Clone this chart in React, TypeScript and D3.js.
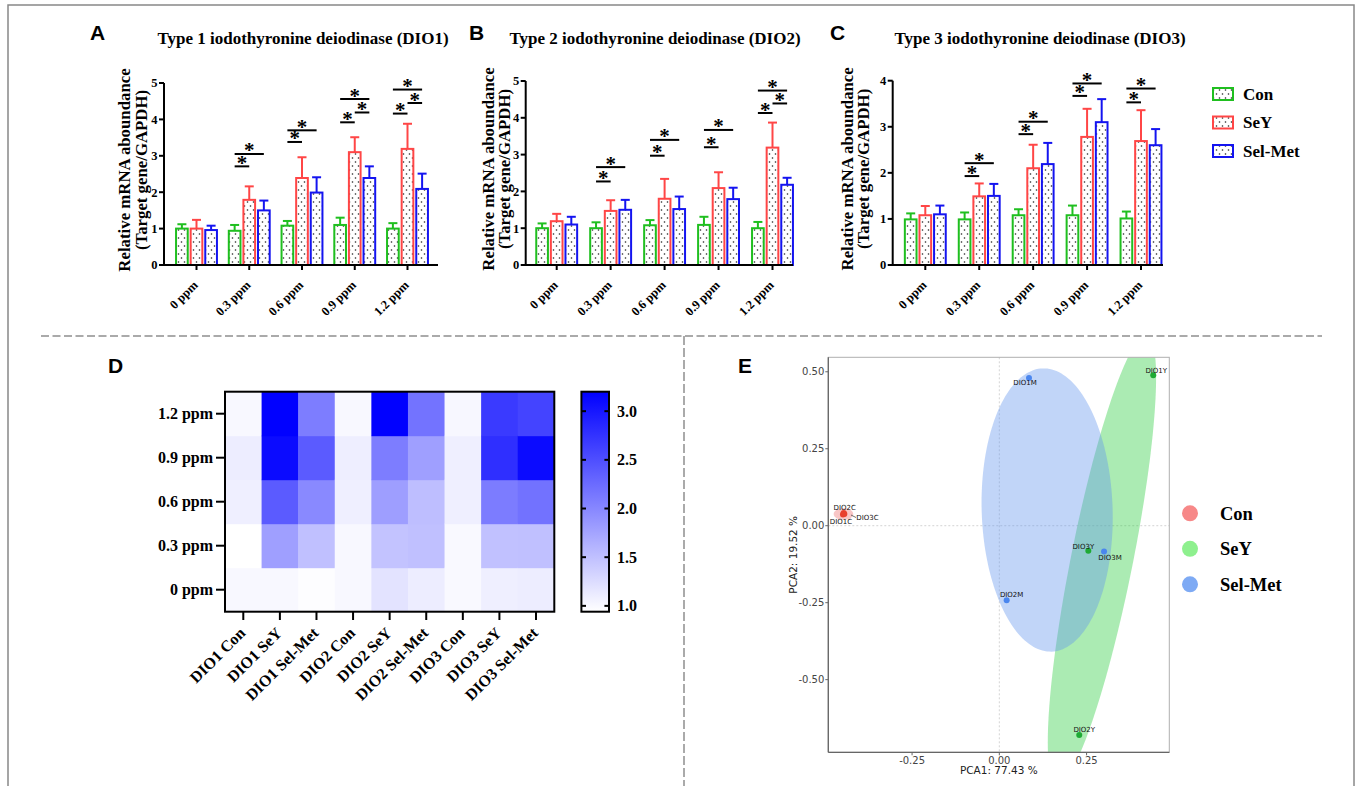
import React from "react";
import * as d3 from "d3";

// ---------------- DATA ----------------
const doses = ["0 ppm", "0.3 ppm", "0.6 ppm", "0.9 ppm", "1.2 ppm"];
const groups = ["Con", "SeY", "Sel-Met"];

// DIO1 (panel A)
const dio1Con = [1.0, 0.94, 1.08, 1.1, 1.0];
const dio1ConSD = [0.12, 0.16, 0.13, 0.2, 0.15];
const dio1SeY = [1.0, 1.79, 2.39, 3.1, 3.19];
const dio1SeYSD = [0.24, 0.37, 0.57, 0.41, 0.69];
const dio1Met = [0.96, 1.5, 1.99, 2.39, 2.09];
const dio1MetSD = [0.12, 0.27, 0.42, 0.32, 0.42];

// DIO2 (panel B)
const dio2Con = [1.0, 1.0, 1.08, 1.09, 1.0];
const dio2ConSD = [0.13, 0.16, 0.14, 0.22, 0.17];
const dio2SeY = [1.19, 1.47, 1.8, 2.09, 3.19];
const dio2SeYSD = [0.2, 0.29, 0.54, 0.43, 0.68];
const dio2Met = [1.1, 1.5, 1.52, 1.79, 2.18];
const dio2MetSD = [0.21, 0.27, 0.34, 0.31, 0.19];

// DIO3 (panel C)
const dio3Con = [0.99, 0.99, 1.08, 1.08, 1.01];
const dio3ConSD = [0.13, 0.15, 0.13, 0.21, 0.15];
const dio3SeY = [1.08, 1.49, 2.1, 2.78, 2.69];
const dio3SeYSD = [0.2, 0.28, 0.51, 0.61, 0.67];
const dio3Met = [1.1, 1.5, 2.19, 3.1, 2.6];
const dio3MetSD = [0.19, 0.26, 0.46, 0.5, 0.35];

// significance brackets: [dose index, from group, to group, height]
const dio1Sig = [[1, 0, 1, 2.71], [1, 0, 2, 3.05], [2, 0, 1, 3.38], [2, 0, 2, 3.7], [3, 0, 1, 3.92], [3, 1, 2, 4.19], [3, 0, 2, 4.56], [4, 0, 1, 4.16], [4, 1, 2, 4.45], [4, 0, 2, 4.82]];
const dio2Sig = [[1, 0, 1, 2.27], [1, 0, 2, 2.66], [2, 0, 1, 2.97], [2, 0, 2, 3.4], [3, 0, 1, 3.2], [3, 0, 2, 3.67], [4, 0, 1, 4.13], [4, 1, 2, 4.39], [4, 0, 2, 4.74]];
const dio3Sig = [[1, 0, 1, 1.93], [1, 0, 2, 2.21], [2, 0, 1, 2.84], [2, 0, 2, 3.11], [3, 0, 1, 3.67], [3, 0, 2, 3.94], [4, 0, 1, 3.53], [4, 0, 2, 3.83]];

// heatmap
const genes = ["DIO1", "DIO2", "DIO3"];
const heatDomain = [0.94, 3.2];
const colorbarTicks = [1.0, 1.5, 2.0, 2.5, 3.0];

// PCA
const pcaGroups = ["Con", "SeY", "Sel-Met"];
const pcaNames = ["DIO1C", "DIO2C", "DIO3C", "DIO1Y", "DIO2Y", "DIO3Y", "DIO1M", "DIO2M", "DIO3M"];
const pcaGroupOf = [0, 0, 0, 1, 1, 1, 2, 2, 2];
const pcaX = [-0.448, -0.446, -0.444, 0.441, 0.229, 0.255, 0.085, 0.021, 0.3];
const pcaY = [0.036, 0.041, 0.038, 0.489, -0.68, -0.081, 0.48, -0.242, -0.084];
// confidence ellipses: center, semi-axis vector u, semi-axis vector v (data units)
const ellCon = { c: [-0.4466, 0.038], u: [0.028, 0.0], v: [0.0, 0.019] };
const ellSeY = { c: [0.294, -0.111], u: [0.1285, 0.729], v: [0.087, -0.0198] };
const ellMet = { c: [0.137, 0.051], u: [-0.0125, 0.46], v: [0.1875, 0.0065] };
const pcaXTicks = [-0.25, 0.0, 0.25];
const pcaYTicks = [0.5, 0.25, 0.0, -0.25, -0.5];

// ---------------- STYLE ----------------
const SERIF = "'Liberation Serif', 'Times New Roman', serif";
const SANS = "'Liberation Sans', Arial, sans-serif";
const DEJA = "'DejaVu Sans', sans-serif";
const barColors = ["#1fbf1f", "#ff4646", "#1414f0"];
const pcaPointColors = ["#e8402f", "#1eaa34", "#4a86ee"];
const pcaFill = ["#f08080", "#2ecc40", "#6495ed"];
const legendDot = ["#f78888", "#8ef08e", "#7eaaf4"];

const panels = [
  { letter: "A", letterX: 90, title: "Type 1 iodothyronine deiodinase (DIO1)", titleX: 303, axisX: 164, axisEnd: 438, centers: [196.5, 407.5], yRange: [265, 83], yMax: 5, yl1: 130, yl2: 147, series: [dio1Con, dio1SeY, dio1Met], sds: [dio1ConSD, dio1SeYSD, dio1MetSD], sig: dio1Sig },
  { letter: "B", letterX: 469, title: "Type 2 iodothyronine deiodinase (DIO2)", titleX: 655, axisX: 525.7, axisEnd: 793, centers: [556.7, 772.5], yRange: [265, 81], yMax: 5, yl1: 494, yl2: 510, series: [dio2Con, dio2SeY, dio2Met], sds: [dio2ConSD, dio2SeYSD, dio2MetSD], sig: dio2Sig },
  { letter: "C", letterX: 830, title: "Type 3 iodothyronine deiodinase (DIO3)", titleX: 1040, axisX: 892.7, axisEnd: 1163, centers: [925.3, 1141], yRange: [265, 80.7], yMax: 4, yl1: 853, yl2: 869, series: [dio3Con, dio3SeY, dio3Met], sds: [dio3ConSD, dio3SeYSD, dio3MetSD], sig: dio3Sig },
];

function BarPanel({ p }: { p: any }) {
  const x = d3.scalePoint<string>().domain(doses).range(p.centers);
  const sub = d3.scaleBand<string>().domain(groups).range([-20.45, 20.45]).paddingInner(0.2);
  const y = d3.scaleLinear().domain([0, p.yMax]).range(p.yRange);
  const bw = sub.bandwidth();
  const yTicks = d3.range(0, p.yMax + 1);
  const yc = (p.yRange[0] + p.yRange[1]) / 2 - 4;
  const cx = (d: number, g: number) => (x(doses[d]) as number) + (sub(groups[g]) as number) + bw / 2;
  return (
    <g>
      <text x={p.letterX} y={40} fontFamily={SANS} fontWeight="bold" fontSize={21}>{p.letter}</text>
      <text x={p.titleX} y={44} textAnchor="middle" fontFamily={SERIF} fontWeight="bold" fontSize={17}>{p.title}</text>
      <text transform={`translate(${p.yl1},${yc}) rotate(-90)`} textAnchor="middle" fontFamily={SERIF} fontWeight="bold" fontSize={16.8}>Relative mRNA aboundance</text>
      <text transform={`translate(${p.yl2},${yc}) rotate(-90)`} textAnchor="middle" fontFamily={SERIF} fontWeight="bold" fontSize={16.8}>(Target gene/GAPDH)</text>
      {p.series.map((s: number[], g: number) =>
        s.map((v: number, d: number) => {
          const left = cx(d, g) - bw / 2;
          const top = y(v + p.sds[g][d]);
          return (
            <g key={`${g}-${d}`}>
              <line x1={cx(d, g)} x2={cx(d, g)} y1={y(v)} y2={top} stroke={barColors[g]} strokeWidth={2} />
              <line x1={cx(d, g) - 4.5} x2={cx(d, g) + 4.5} y1={top} y2={top} stroke={barColors[g]} strokeWidth={2} />
              <rect x={left} y={y(v)} width={bw} height={y(0) - y(v)} fill="url(#dots)" stroke={barColors[g]} strokeWidth={2} />
            </g>
          );
        })
      )}
      {p.sig.map((s: number[], i: number) => {
        const x1 = cx(s[0], s[1]);
        const x2 = cx(s[0], s[2]);
        const yy = y(s[3]);
        return (
          <g key={"s" + i}>
            <line x1={x1} x2={x2} y1={yy} y2={yy} stroke="#000" strokeWidth={2} />
            <text x={(x1 + x2) / 2} y={yy + 3.5} textAnchor="middle" fontFamily={SERIF} fontWeight="bold" fontSize={21}>*</text>
          </g>
        );
      })}
      <line x1={p.axisX} x2={p.axisX} y1={y(0) + 1} y2={y(p.yMax)} stroke="#000" strokeWidth={2} />
      <line x1={p.axisX} x2={p.axisEnd} y1={y(0)} y2={y(0)} stroke="#000" strokeWidth={2} />
      {yTicks.map((t: number) => (
        <g key={"y" + t}>
          <line x1={p.axisX - 5} x2={p.axisX} y1={y(t)} y2={y(t)} stroke="#000" strokeWidth={2} />
          <text x={p.axisX - 6.5} y={y(t)} dy="0.35em" textAnchor="end" fontFamily={SERIF} fontWeight="bold" fontSize={12.5}>{t}</text>
        </g>
      ))}
      {doses.map((d) => (
        <g key={d}>
          <line x1={x(d)} x2={x(d)} y1={y(0)} y2={y(0) + 5} stroke="#000" strokeWidth={2} />
          <text transform={`translate(${(x(d) as number) + 2},${y(0) + 21}) rotate(-45)`} textAnchor="end" fontFamily={SERIF} fontWeight="bold" fontSize={12.5}>{d}</text>
        </g>
      ))}
    </g>
  );
}

function BarLegend() {
  const ys = [88, 116.5, 145];
  return (
    <g>
      {groups.map((g, i) => (
        <g key={g}>
          <rect x={1213} y={ys[i]} width={20} height={12} fill="url(#dots)" stroke={barColors[i]} strokeWidth={2} />
          <text x={1243} y={ys[i] + 6} dy="0.35em" fontFamily={SERIF} fontWeight="bold" fontSize={17}>{g}</text>
        </g>
      ))}
    </g>
  );
}

function Heatmap() {
  const cols: string[] = [];
  const vals: { col: string; dose: string; v: number }[] = [];
  const means = [
    [dio1Con, dio1SeY, dio1Met],
    [dio2Con, dio2SeY, dio2Met],
    [dio3Con, dio3SeY, dio3Met],
  ];
  genes.forEach((gn, gi) =>
    groups.forEach((gr, ri) => {
      const col = `${gn} ${gr}`;
      cols.push(col);
      doses.forEach((d, di) => vals.push({ col, dose: d, v: means[gi][ri][di] }));
    })
  );
  const x = d3.scaleBand<string>().domain(cols).range([225, 554.3]);
  const y = d3.scaleBand<string>().domain([...doses].reverse()).range([391.7, 611.7]);
  const color = d3.scaleLinear<string>().domain(heatDomain).range(["#ffffff", "#0000ff"]).interpolate(d3.interpolateRgb).clamp(true);
  const cb = d3.scaleLinear().domain(heatDomain).range([611.7, 391.7]);
  const stops = d3.range(0, 1.0001, 0.1);
  return (
    <g>
      <defs>
        <linearGradient id="cbgrad" x1="0" y1="1" x2="0" y2="0">
          {stops.map((s) => (
            <stop key={s} offset={s} stopColor={color(heatDomain[0] + s * (heatDomain[1] - heatDomain[0]))} />
          ))}
        </linearGradient>
      </defs>
      <text x={108} y={373} fontFamily={SANS} fontWeight="bold" fontSize={21}>D</text>
      {vals.map((c, i) => (
        <rect key={i} x={x(c.col)} y={y(c.dose)} width={x.bandwidth() + 0.5} height={y.bandwidth() + 0.5} fill={color(c.v)} />
      ))}
      <rect x={225} y={391.7} width={329.3} height={220} fill="none" stroke="#000" strokeWidth={2} />
      {doses.map((d) => (
        <g key={d}>
          <line x1={216} x2={225} y1={(y(d) as number) + y.bandwidth() / 2} y2={(y(d) as number) + y.bandwidth() / 2} stroke="#000" strokeWidth={2} />
          <text x={213} y={(y(d) as number) + y.bandwidth() / 2} dy="0.35em" textAnchor="end" fontFamily={SERIF} fontWeight="bold" fontSize={16}>{d}</text>
        </g>
      ))}
      {cols.map((c) => {
        const cx = (x(c) as number) + x.bandwidth() / 2;
        return (
          <g key={c}>
            <line x1={cx} x2={cx} y1={611.7} y2={620} stroke="#000" strokeWidth={2} />
            <text transform={`translate(${cx + 3},${634}) rotate(-45)`} textAnchor="end" fontFamily={SERIF} fontWeight="bold" fontSize={16}>{c}</text>
          </g>
        );
      })}
      <rect x={581.4} y={391.7} width={27.6} height={220} fill="url(#cbgrad)" stroke="#000" strokeWidth={2} />
      {colorbarTicks.map((t) => (
        <g key={t}>
          <line x1={581.4} x2={586} y1={cb(t)} y2={cb(t)} stroke="#000" strokeWidth={2} />
          <line x1={604.4} x2={609} y1={cb(t)} y2={cb(t)} stroke="#000" strokeWidth={2} />
          <text x={617} y={cb(t)} dy="0.35em" fontFamily={SERIF} fontWeight="bold" fontSize={16}>{t.toFixed(1)}</text>
        </g>
      ))}
    </g>
  );
}

function Pca() {
  const L = 828.3, R = 1169.3, T = 357.3, B = 752.3;
  const x = d3.scaleLinear().domain([-0.49, 0.487]).range([L, R]);
  const y = d3.scaleLinear().domain([-0.736, 0.547]).range([B, T]);
  const ellPath = (e: any) => {
    const pts: [number, number][] = d3.range(0, 2 * Math.PI + 0.001, Math.PI / 90).map((t) => [
      x(e.c[0] + e.u[0] * Math.cos(t) + e.v[0] * Math.sin(t)),
      y(e.c[1] + e.u[1] * Math.cos(t) + e.v[1] * Math.sin(t)),
    ]);
    return d3.line()(pts) + "Z";
  };
  const ells = [ellCon, ellSeY, ellMet];
  const labelOff: [number, number, string][] = [
    [-2, 9, "middle"], [1, -3, "middle"], [12, 6, "start"],
    [3, -2, "middle"], [5, -3, "middle"], [-5, -2, "middle"],
    [-4, 7, "middle"], [5, -3, "middle"], [6, 8, "middle"],
  ];
  return (
    <g>
      <text x={738} y={373} fontFamily={SANS} fontWeight="bold" fontSize={21}>E</text>
      <defs>
        <clipPath id="pcaclip">
          <rect x={L} y={T} width={R - L} height={B - T} />
        </clipPath>
      </defs>
      <line x1={x(0)} x2={x(0)} y1={T} y2={B} stroke="#d4d4d4" strokeWidth={1} strokeDasharray="2,2" />
      <line x1={L} x2={R} y1={y(0)} y2={y(0)} stroke="#d4d4d4" strokeWidth={1} strokeDasharray="2,2" />
      <g clipPath="url(#pcaclip)">
        {ells.map((e, i) => (
          <path key={i} d={ellPath(e)} fill={pcaFill[i]} fillOpacity={i === 0 ? 0.45 : 0.4} stroke="none" />
        ))}
      </g>
      <line x1={851} x2={856} y1={515} y2={517.5} stroke="#333" strokeWidth={0.7} />
      {pcaNames.map((n, i) => (
        <g key={n}>
          <circle cx={x(pcaX[i])} cy={y(pcaY[i])} r={3} fill={pcaPointColors[pcaGroupOf[i]]} />
        </g>
      ))}
      {pcaNames.map((n, i) => (
        <text key={"l" + n} x={x(pcaX[i]) + labelOff[i][0]} y={y(pcaY[i]) + labelOff[i][1]} textAnchor={labelOff[i][2] as any} fontFamily={DEJA} fontSize={7} fill="#111">{n}</text>
      ))}
      <rect x={L} y={T} width={R - L} height={B - T} fill="none" stroke="#b0b0b0" strokeWidth={1} />
      <line x1={L} x2={L} y1={T} y2={B} stroke="#666" strokeWidth={1.3} />
      <line x1={L} x2={R} y1={B} y2={B} stroke="#666" strokeWidth={1.3} />
      {pcaXTicks.map((t) => (
        <g key={"x" + t}>
          <line x1={x(t)} x2={x(t)} y1={B} y2={B + 3} stroke="#666" />
          <text x={x(t)} y={B + 12} textAnchor="middle" fontFamily={DEJA} fontSize={10} fill="#444">{t.toFixed(2)}</text>
        </g>
      ))}
      {pcaYTicks.map((t) => (
        <g key={"y" + t}>
          <line x1={L - 3} x2={L} y1={y(t)} y2={y(t)} stroke="#666" />
          <text x={L - 4} y={y(t)} dy="0.35em" textAnchor="end" fontFamily={DEJA} fontSize={10} fill="#444">{t.toFixed(2)}</text>
        </g>
      ))}
      <text x={(L + R) / 2} y={774} textAnchor="middle" fontFamily={DEJA} fontSize={10.5} fill="#222">PCA1: 77.43 %</text>
      <text transform={`translate(797,${(T + B) / 2}) rotate(-90)`} textAnchor="middle" fontFamily={DEJA} fontSize={10.5} fill="#222">PCA2: 19.52 %</text>
      {pcaGroups.map((g, i) => (
        <g key={g}>
          <circle cx={1190} cy={513.3 + i * 35.5} r={8} fill={legendDot[i]} />
          <text x={1220} y={513.3 + i * 35.5} dy="0.35em" fontFamily={SERIF} fontWeight="bold" fontSize={18.5}>{g}</text>
        </g>
      ))}
    </g>
  );
}

export default function App() {
  return (
    <svg width={1357} height={786} style={{ position: "absolute", left: 0, top: 0, background: "#fff" }}>
      <defs>
        <pattern id="dots" width={6} height={8} patternUnits="userSpaceOnUse">
          <rect width={6} height={8} fill="#fff" />
          <circle cx={1.5} cy={2} r={0.8} fill="#222" />
          <circle cx={4.5} cy={6} r={0.8} fill="#222" />
        </pattern>
      </defs>
      <rect width={1357} height={786} fill="#fff" />
      <rect x={8} y={5} width={1346} height={800} fill="none" stroke="#888" strokeWidth={1.5} />
      {panels.map((p) => (
        <BarPanel key={p.letter} p={p} />
      ))}
      <BarLegend />
      <line x1={41} x2={1322} y1={336} y2={336} stroke="#aaa" strokeWidth={2} strokeDasharray="8,3.5" />
      <line x1={684} x2={684} y1={336} y2={786} stroke="#aaa" strokeWidth={2} strokeDasharray="9,3" />
      <Heatmap />
      <Pca />
    </svg>
  );
}
